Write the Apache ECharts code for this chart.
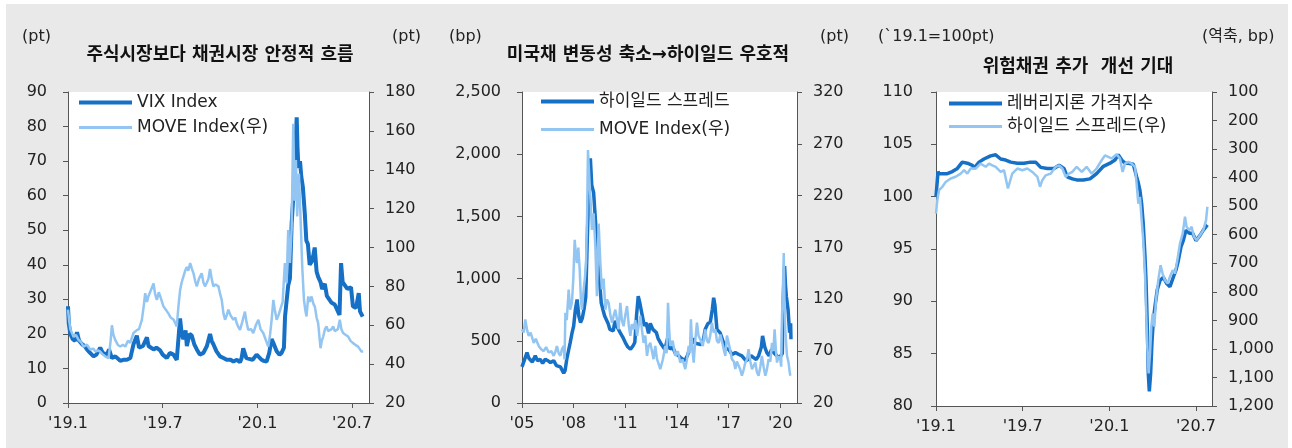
<!DOCTYPE html>
<html><head><meta charset="utf-8">
<script src="https://cdn.jsdelivr.net/npm/echarts@6/dist/echarts.min.js"></script>
<style>
html,body{margin:0;padding:0;background:#fff;}
#bg{position:absolute;left:6px;top:4px;width:1282px;height:444px;background:#e9e9e9;}
#c{position:absolute;left:0;top:0;width:1292px;height:448px;}
</style>
</head><body><div id="bg"></div><div id="c"></div>
<script>
// ---------- Panel 1 : x = months since Jan 2019 ----------
const p1TickVals = [0, 6, 12, 18];
const p1TickLabels = ["'19.1", "'19.7", "'20.1", "'20.7"];
const vix = [[0.00,28],[0.05,23],[0.15,20],[0.3,18.5],[0.45,18],[0.57,20.5],[0.7,18],[0.89,17],[1.05,16.5],[1.2,15.5],[1.4,14.5],[1.62,13.5],[1.8,14],[2.04,16],[2.2,14.5],[2.47,14],[2.6,15.5],[2.78,13],[3.0,13.5],[3.31,12.2],[3.5,12.5],[3.73,12.5],[3.95,13],[4.15,17],[4.36,19.5],[4.5,16],[4.75,16.5],[5.0,19],[5.1,16.5],[5.42,15.5],[5.6,16],[5.84,15.2],[6.0,14],[6.26,13],[6.45,14.5],[6.68,14],[6.89,12.5],[7.1,24.5],[7.2,20],[7.31,18.5],[7.45,21],[7.53,16.5],[7.7,20],[7.84,19.5],[8.0,17],[8.16,15.5],[8.35,14],[8.58,14.5],[8.8,16.5],[9.0,20],[9.1,18],[9.21,17],[9.4,15],[9.63,13.5],[9.85,13],[10.05,12.5],[10.3,12.5],[10.48,12],[10.7,12.5],[10.9,11.8],[11.0,13],[11.1,15.8],[11.21,15.5],[11.3,13],[11.42,12.5],[11.7,12.5],[11.95,14],[12.05,13.5],[12.27,12.5],[12.4,12.2],[12.58,12],[12.75,14.5],[12.9,18.5],[13.0,17.5],[13.22,15],[13.4,14],[13.53,14.5],[13.68,16],[13.75,25],[13.86,30],[13.95,34],[14.06,36],[14.17,52],[14.28,60],[14.38,72],[14.49,82.7],[14.54,74],[14.6,68],[14.7,70],[14.78,65.5],[14.88,62.5],[15.0,55],[15.1,47],[15.2,46],[15.31,40],[15.45,41],[15.55,43],[15.63,45],[15.75,38],[15.85,36.5],[16.0,35],[16.1,33],[16.27,34.5],[16.4,31],[16.48,30.5],[16.7,29],[16.9,28.5],[17.05,27],[17.2,25.5],[17.3,40.5],[17.4,35],[17.5,34.5],[17.7,33],[17.93,33.5],[18.05,28],[18.25,27.5],[18.42,31.8],[18.5,26.5],[18.67,25]];
const move1 = [[0.00,68],[0.08,62],[0.15,58],[0.36,54],[0.5,55],[0.67,52.5],[0.85,51],[0.99,49],[1.2,50],[1.41,47.5],[1.6,48],[1.73,46.5],[1.9,47],[2.04,46.5],[2.2,45],[2.36,44],[2.57,43],[2.7,52],[2.78,60],[2.88,55],[2.99,52.5],[3.15,50],[3.31,49],[3.47,50],[3.63,49],[3.8,52],[3.94,51],[4.15,56],[4.36,57.5],[4.5,58],[4.68,62.8],[4.8,70],[4.89,76.5],[5.0,72],[5.1,75],[5.25,78],[5.42,81.5],[5.52,76],[5.63,73],[5.75,77],[5.84,75],[6.05,69.6],[6.2,68],[6.37,66],[6.5,64],[6.68,63],[6.8,61],[6.89,59.4],[7.0,70],[7.1,78],[7.2,82],[7.31,85],[7.42,88],[7.53,90],[7.62,88],[7.74,92],[7.85,89],[7.95,86.7],[8.05,83],[8.16,80],[8.3,84],[8.47,86.7],[8.58,82],[8.68,80],[8.8,82],[8.9,84],[9.0,89],[9.1,84],[9.21,80],[9.35,81],[9.53,80],[9.64,76],[9.74,73],[9.85,66],[9.95,62.8],[10.05,65],[10.16,68],[10.3,65],[10.48,62.8],[10.6,64],[10.69,61],[10.8,59],[10.9,57.6],[11.05,62],[11.21,67],[11.3,62],[11.42,57.6],[11.6,58],[11.74,56],[11.9,60],[12.06,62.8],[12.2,58],[12.37,56],[12.55,52],[12.69,49],[12.8,55],[12.9,62.8],[13.01,73],[13.1,68],[13.22,62.8],[13.33,65],[13.43,64.5],[13.6,72],[13.74,92],[13.85,81.6],[13.95,109],[14.06,92],[14.17,110],[14.27,163.7],[14.36,124],[14.44,145],[14.52,116],[14.63,138],[14.73,116],[14.84,90],[14.95,73],[15.03,68],[15.11,64.5],[15.22,74.8],[15.32,72],[15.43,74.8],[15.55,71],[15.64,69.6],[15.75,64],[15.85,61],[16.0,48.2],[16.08,52],[16.17,54.2],[16.28,58],[16.38,59.4],[16.48,57],[16.59,56],[16.7,58],[16.8,59.4],[16.9,57],[17.01,56],[17.1,58],[17.22,62.8],[17.32,58],[17.43,56],[17.6,55],[17.75,54.2],[17.9,52],[18.06,50.8],[18.2,50],[18.38,49],[18.5,48],[18.59,46.5],[18.7,46.5]];

// ---------- Panel 2 : x = year ----------
const p2TickVals = [2005, 2008, 2011, 2014, 2017, 2020];
const p2TickLabels = ["'05", "'08", "'11", "'14", "'17", "'20"];
const p2RightTicks = [20, 70, 120, 170, 220, 270, 320];
const hy2 = [[2005.0,290],[2005.1,285],[2005.29,405],[2005.4,360],[2005.48,352],[2005.6,330],[2005.77,379],[2005.9,340],[2006.06,350],[2006.2,320],[2006.35,352],[2006.5,340],[2006.65,325],[2006.84,340],[2007.0,300],[2007.1,310],[2007.23,290],[2007.42,240],[2007.5,260],[2007.6,352],[2007.7,420],[2007.8,485],[2007.9,560],[2008.0,619],[2008.1,752],[2008.2,832],[2008.3,699],[2008.4,646],[2008.5,680],[2008.6,752],[2008.7,850],[2008.77,1200],[2008.85,1600],[2008.97,1966],[2009.05,1750],[2009.16,1690],[2009.25,1500],[2009.3,1393],[2009.4,1126],[2009.5,993],[2009.6,806],[2009.7,750],[2009.8,699],[2010.0,640],[2010.1,592],[2010.3,580],[2010.4,660],[2010.5,619],[2010.7,566],[2010.85,530],[2011.0,486],[2011.15,450],[2011.3,432],[2011.45,460],[2011.55,486],[2011.65,700],[2011.75,859],[2011.85,800],[2011.95,726],[2012.1,620],[2012.2,646],[2012.35,560],[2012.45,640],[2012.6,592],[2012.8,566],[2012.9,520],[2013.1,470],[2013.3,430],[2013.45,520],[2013.6,432],[2013.75,450],[2013.9,400],[2014.1,380],[2014.25,360],[2014.45,340],[2014.6,380],[2014.8,459],[2014.95,520],[2015.05,480],[2015.16,486],[2015.4,470],[2015.55,520],[2015.64,592],[2015.8,640],[2015.93,646],[2016.05,750],[2016.13,846],[2016.2,790],[2016.32,592],[2016.5,566],[2016.7,486],[2016.85,440],[2017.0,432],[2017.2,390],[2017.39,405],[2017.6,390],[2017.77,379],[2018.0,340],[2018.16,352],[2018.3,380],[2018.45,365],[2018.6,350],[2018.74,379],[2018.9,450],[2018.97,539],[2019.1,450],[2019.22,405],[2019.35,380],[2019.5,432],[2019.65,400],[2019.8,379],[2019.95,360],[2020.06,352],[2020.12,400],[2020.15,752],[2020.2,950],[2020.25,1100],[2020.3,950],[2020.35,859],[2020.45,752],[2020.54,566],[2020.6,640],[2020.62,512]];
const move2 = [[2005.0,91],[2005.1,88],[2005.19,100.7],[2005.3,90],[2005.39,84.7],[2005.5,88],[2005.68,78],[2005.8,82],[2005.97,75],[2006.1,72],[2006.26,70],[2006.4,74],[2006.55,68.7],[2006.7,70],[2006.84,65.5],[2006.95,70],[2007.03,75],[2007.13,68],[2007.23,65.5],[2007.32,72],[2007.42,75],[2007.47,62],[2007.52,107],[2007.6,100],[2007.71,129.5],[2007.8,110],[2007.9,116.7],[2007.98,140],[2008.06,177.5],[2008.12,165],[2008.19,155],[2008.27,170],[2008.35,148.7],[2008.42,120],[2008.48,110],[2008.58,129.5],[2008.65,140],[2008.72,155],[2008.78,200],[2008.83,264],[2008.9,240],[2008.97,219],[2009.06,187],[2009.16,203],[2009.26,171],[2009.35,123],[2009.45,193],[2009.55,155],[2009.64,129.5],[2009.74,140],[2009.84,110],[2009.93,120],[2010.03,116.7],[2010.13,105],[2010.23,97.5],[2010.32,104],[2010.42,110],[2010.52,100],[2010.61,91],[2010.71,116.7],[2010.8,100],[2010.9,94],[2011.0,105],[2011.1,113.5],[2011.2,95],[2011.29,84.7],[2011.38,96],[2011.48,91],[2011.58,100],[2011.68,84.7],[2011.78,95],[2011.87,104],[2011.97,90],[2012.06,78],[2012.16,85],[2012.26,65.5],[2012.35,75],[2012.45,78],[2012.55,70],[2012.64,62.3],[2012.74,75],[2012.84,62.3],[2012.93,58],[2013.03,52.7],[2013.18,62],[2013.32,75],[2013.4,68],[2013.48,116.7],[2013.55,90],[2013.61,75],[2013.75,80],[2013.9,65.5],[2014.05,70],[2014.19,59],[2014.33,62],[2014.48,52.7],[2014.58,62],[2014.68,75],[2014.75,68],[2014.81,100.7],[2014.88,75],[2014.97,59],[2015.06,80],[2015.16,97.5],[2015.25,85],[2015.35,81.5],[2015.5,75],[2015.64,91],[2015.74,80],[2015.84,78],[2015.93,85],[2016.03,97.5],[2016.13,88],[2016.23,91],[2016.32,80],[2016.42,78],[2016.52,86],[2016.61,84.7],[2016.71,72],[2016.81,65.5],[2016.9,85],[2017.0,78],[2017.1,70],[2017.19,62.3],[2017.3,60],[2017.39,52.7],[2017.48,60],[2017.58,59],[2017.68,52],[2017.77,46.3],[2017.87,52],[2017.97,59],[2018.06,62],[2018.16,71.9],[2018.26,60],[2018.36,52.7],[2018.46,56],[2018.55,59],[2018.64,50],[2018.74,46.3],[2018.84,55],[2018.93,65.5],[2019.03,55],[2019.13,46.3],[2019.22,52],[2019.32,62.3],[2019.42,60],[2019.52,78],[2019.6,70],[2019.67,91],[2019.74,72],[2019.81,59],[2019.9,65],[2020.0,62.3],[2020.05,55],[2020.1,104],[2020.15,130],[2020.2,164.7],[2020.24,120],[2020.29,91],[2020.35,75],[2020.39,65.5],[2020.44,62],[2020.48,59],[2020.53,52],[2020.58,46.3]];

// ---------- Panel 3 : x = months since Jan 2019 ----------
const p3TickVals = [0, 6, 12, 18];
const p3TickLabels = ["'19.1", "'19.7", "'20.1", "'20.7"];
const loan = [[0,100],[0.14,102.4],[0.21,102.2],[0.44,102.2],[0.78,102.2],[1.13,102.4],[1.48,102.7],[1.82,103.3],[2.17,103.2],[2.52,103.0],[2.63,102.7],[2.98,103.3],[3.32,103.6],[3.78,103.9],[4.13,104.0],[4.48,103.6],[4.82,103.5],[5.17,103.3],[5.63,103.2],[6.09,103.2],[6.55,103.3],[6.9,103.3],[7.25,102.8],[7.71,102.7],[8.17,102.7],[8.52,103.0],[8.86,102.7],[9.09,101.9],[9.44,101.7],[9.74,101.6],[10.2,101.6],[10.66,101.7],[11.12,102.2],[11.59,102.9],[12.05,103.2],[12.39,103.5],[12.62,104.0],[12.86,103.5],[13.09,103.2],[13.32,103.2],[13.66,103.1],[13.89,101.9],[14.01,101.3],[14.12,100.6],[14.24,99.3],[14.35,97.4],[14.47,94.3],[14.54,92.0],[14.63,87.6],[14.7,83.1],[14.77,81.4],[14.86,83.1],[14.96,86.3],[15.05,88.2],[15.16,89.5],[15.32,91.1],[15.51,92.0],[15.74,92.3],[15.97,91.7],[16.2,91.4],[16.43,92.3],[16.62,93.0],[16.78,93.9],[16.96,95.2],[17.12,95.8],[17.31,96.8],[17.54,96.5],[17.77,96.5],[18.0,95.8],[18.28,96.3],[18.51,96.8],[18.79,97.3]];
const hy3 = [[0,526],[0.09,479],[0.21,444],[0.44,432],[0.67,415],[1.02,403],[1.36,397],[1.71,386],[1.94,374],[2.17,386],[2.4,368],[2.75,368],[3.09,351],[3.44,362],[3.67,351],[3.9,357],[4.13,362],[4.48,380],[4.71,374],[4.98,438],[5.28,386],[5.63,368],[5.98,374],[6.32,368],[6.67,380],[7.02,397],[7.2,432],[7.36,409],[7.59,392],[7.94,386],[8.29,362],[8.52,357],[8.75,368],[8.98,397],[9.21,386],[9.44,380],[9.51,374],[9.74,362],[10.09,380],[10.43,362],[10.78,386],[11.12,368],[11.47,339],[11.7,322],[11.93,327],[12.16,333],[12.51,318],[12.74,333],[12.92,380],[13.09,351],[13.32,345],[13.55,351],[13.78,362],[13.89,421],[14.01,491],[14.12,467],[14.24,549],[14.35,619],[14.47,736],[14.54,852],[14.63,992],[14.72,1086],[14.82,1016],[14.91,922],[15.0,876],[15.12,922],[15.23,829],[15.39,759],[15.55,707],[15.69,736],[15.85,759],[16.04,771],[16.2,747],[16.39,724],[16.55,736],[16.71,689],[16.89,631],[17.08,596],[17.24,537],[17.35,572],[17.54,584],[17.7,572],[17.86,607],[18.05,619],[18.28,602],[18.51,584],[18.7,549],[18.79,502]];

// ---------- styling ----------
const FONT = "'DejaVu Sans','Noto Sans CJK KR',sans-serif";
const DARK = '#1570c6', LIGHT = '#92c5f2', AXIS = '#555', TXT = '#222';

function xAxis(gi, min, max, vals, labels) {
  return {
    type: 'value', gridIndex: gi, min: min, max: max,
    axisLine: {show: true, onZero: false, lineStyle: {color: AXIS, width: 1}},
    axisTick: {show: true, length: 5, customValues: vals, lineStyle: {color: AXIS}},
    axisLabel: {customValues: vals, margin: 13, fontSize: 16, color: TXT, fontFamily: FONT,
      formatter: v => { const i = vals.indexOf(v); return i >= 0 ? labels[i] : ''; }},
    splitLine: {show: false}
  };
}
function yAxis(gi, pos, min, max, interval, margin, opts) {
  const a = {
    type: 'value', gridIndex: gi, position: pos, min: min, max: max, interval: interval,
    axisLine: {show: true, onZero: false, lineStyle: {color: AXIS, width: 1}},
    axisTick: {show: true, length: 5, lineStyle: {color: AXIS}},
    axisLabel: {margin: margin, fontSize: 16, color: TXT, fontFamily: FONT,
      formatter: v => Number(v).toLocaleString('en-US')},
    splitLine: {show: false}
  };
  return Object.assign(a, opts || {});
}
function line(name, data, xi, yi, color, w, z) {
  return {type: 'line', name: name, data: data, xAxisIndex: xi, yAxisIndex: yi,
    showSymbol: false, symbol: 'none', smooth: false, z: z,
    lineStyle: {color: color, width: w}, itemStyle: {color: color}, emphasis: {disabled: true}};
}
function txt(x, y, s, bold, align) {
  return {type: 'text', x: x, y: y, z: 100,
    style: {text: s, fill: bold ? '#111' : TXT,
      font: (bold ? 'bold 18px ' : '16px ') + FONT,
      align: align, textAlign: align, verticalAlign: 'middle', textVerticalAlign: 'middle'}};
}
// one legend per item so each icon can have its own stroke thickness
function legendItem(name, left, top, thick, color) {
  return {data: [{name: name, icon: 'rect', itemStyle: {color: color}}],
    left: left, top: top, itemWidth: 53, itemHeight: thick,
    padding: 0, selectedMode: false,
    textStyle: {fontSize: 17, color: TXT, fontFamily: FONT}};
}

const chart = echarts.init(document.getElementById('c'), null, {renderer: 'canvas'});
const gridBase = {show: true, backgroundColor: '#fff', borderWidth: 0, containLabel: false};
const p2Right = yAxis(1, 'right', 20, 320, 50, 16);
delete p2Right.interval;
p2Right.axisLabel.customValues = p2RightTicks;
p2Right.axisTick.customValues = p2RightTicks;

chart.setOption({
  animation: false,
  grid: [
    Object.assign({left: 68, top: 92, width: 301, height: 311}, gridBase),
    Object.assign({left: 522, top: 92, width: 275, height: 311}, gridBase),
    Object.assign({left: 936, top: 92, width: 276, height: 314}, gridBase)
  ],
  xAxis: [
    xAxis(0, 0, 19.07, p1TickVals, p1TickLabels),
    xAxis(1, 2005, 2020.97, p2TickVals, p2TickLabels),
    xAxis(2, 0, 19.11, p3TickVals, p3TickLabels)
  ],
  yAxis: [
    yAxis(0, 'left', 0, 90, 10, 21),
    yAxis(0, 'right', 20, 180, 20, 16),
    yAxis(1, 'left', 0, 2500, 500, 21),
    p2Right,
    yAxis(2, 'left', 80, 110, 5, 23),
    yAxis(2, 'right', 100, 1200, 100, 16, {inverse: true})
  ],
  legend: [
    legendItem('VIX Index', 79, 94, 4, DARK),
    legendItem('MOVE Index(우)', 79, 119, 3, LIGHT),
    legendItem('하이일드 스프레드', 541, 93, 4, DARK),
    legendItem('MOVE Index(우)', 541, 121, 3, LIGHT),
    legendItem('레버리지론 가격지수', 949, 95, 4, DARK),
    legendItem('하이일드 스프레드(우)', 949, 118, 3, LIGHT)
  ],
  series: [
    line('VIX Index', vix, 0, 0, DARK, 4, 2),
    line('MOVE Index(우)', move1, 0, 1, LIGHT, 2.5, 3),
    line('하이일드 스프레드', hy2, 1, 2, DARK, 3.5, 2),
    line('MOVE Index(우)', move2, 1, 3, LIGHT, 2.5, 3),
    line('레버리지론 가격지수', loan, 2, 4, DARK, 3.5, 2),
    line('하이일드 스프레드(우)', hy3, 2, 5, LIGHT, 2.5, 3)
  ],
  graphic: [
    txt(22, 37, '(pt)', false, 'left'),
    txt(392, 37, '(pt)', false, 'left'),
    txt(220, 55, '주식시장보다 채권시장 안정적 흐름', true, 'center'),
    txt(449, 37, '(bp)', false, 'left'),
    txt(820, 37, '(pt)', false, 'left'),
    txt(648, 55, '미국채 변동성 축소→하이일드 우호적', true, 'center'),
    txt(878, 37, '(`19.1=100pt)', false, 'left'),
    txt(1202, 37, '(역축, bp)', false, 'left'),
    txt(1078, 67, '위험채권 추가  개선 기대', true, 'center')
  ]
});
</script>
</body></html>
